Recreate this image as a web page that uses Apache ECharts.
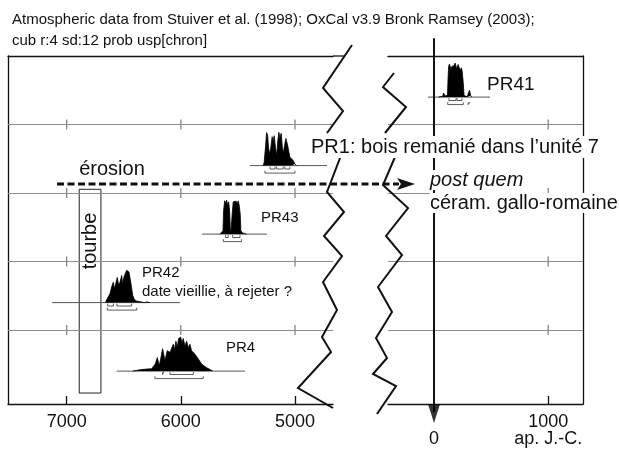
<!DOCTYPE html>
<html>
<head>
<meta charset="utf-8">
<title>OxCal - PR</title>
<script src="https://cdn.jsdelivr.net/npm/echarts@6/dist/echarts.min.js"></script>
<style>
  html, body { margin: 0; padding: 0; background: #fff; }
  #chart { width: 619px; height: 450px; }
</style>
</head>
<body>
<div id="chart"></div>
<script>
// années : négatif = av. J.-C., positif = ap. J.-C.
const leftTickYears = [-7000, -6000, -5000];
const rightLabelYears = [0, 1000];
const rightTickYears = [1000];
const gridRows = [0.6, 1.6, 2.6, 3.6];

// PR4
const pr4Years = [-6420, -6387, -6358, -6299, -6256, -6241, -6224, -6206, -6189, -6174, -6160, -6139, -6119, -6095, -6081, -6066, -6055, -6043, -6031, -6020, -6002, -5990, -5979, -5964, -5949, -5935, -5920, -5906, -5891, -5877, -5862, -5847, -5833, -5818, -5798, -5774, -5745, -5722];
const pr4Prob = [0, 0.02, 0.04, 0.06, 0.07, 0.12, 0.21, 0.4, 0.16, 0.4, 0.66, 0.31, 0.6, 0.55, 0.6, 0.79, 0.64, 0.88, 0.69, 0.96, 1.0, 0.84, 0.96, 0.74, 0.88, 0.69, 0.79, 0.6, 0.64, 0.5, 0.55, 0.36, 0.4, 0.21, 0.16, 0.1, 0.05, 0];
const pr4Base = [-6562, -5439];
const pr4Sigma1 = [[-6160, -6150], [-6095, -5891]];
const pr4Sigma2 = [[-6227, -5804]];

// PR42
const pr42Years = [-6660, -6650, -6636, -6621, -6606, -6592, -6583, -6571, -6557, -6545, -6533, -6518, -6510, -6498, -6487, -6475, -6466, -6454, -6446, -6434, -6422, -6411, -6393, -6382, -6320, -6299, -6285, -6270];
const pr42Prob = [0, 0.08, 0.17, 0.26, 0.46, 0.6, 0.42, 0.55, 0.74, 0.52, 0.6, 0.8, 0.55, 0.75, 0.85, 0.95, 1.0, 0.9, 0.74, 0.5, 0.22, 0.12, 0.05, 0.01, 0, 0.02, 0.04, 0];
const pr42Base = [-7129, -6008];
const pr42Sigma1 = [[-6641, -6590], [-6560, -6431]];
const pr42Sigma2 = [[-6644, -6387]];

// PR43
const pr43Years = [-5658, -5643, -5631, -5625, -5616, -5608, -5599, -5590, -5581, -5573, -5567, -5561, -5555, -5550, -5541, -5532, -5524, -5515, -5506, -5497, -5489, -5480, -5474, -5459, -5439, -5424];
const pr43Prob = [0, 0.03, 0.1, 0.7, 0.98, 0.9, 1.0, 0.85, 0.95, 0.7, 0.2, 0.05, 0.1, 0.6, 0.95, 1.0, 0.9, 0.97, 0.88, 0.98, 0.85, 0.6, 0.1, 0.03, 0.02, 0];
const pr43Base = [-5815, -5246];
const pr43Sigma1 = [[-5608, -5585], [-5546, -5482]];
const pr43Sigma2 = [[-5628, -5468]];

// PR1
const pr1Years = [-5278, -5270, -5257, -5249, -5240, -5231, -5222, -5211, -5200, -5191, -5182, -5170, -5161, -5150, -5141, -5132, -5121, -5112, -5103, -5091, -5080, -5068, -5056, -5045, -5030, -5016, -5001, -4986];
const pr1Prob = [0, 0.1, 0.6, 0.97, 0.9, 0.5, 0.35, 0.55, 0.85, 0.7, 0.88, 0.5, 0.3, 0.75, 0.98, 0.8, 0.95, 0.6, 0.35, 0.6, 0.8, 0.65, 0.45, 0.25, 0.3, 0.15, 0.05, 0];
const pr1Base = [-5395, -4720];
const pr1Sigma1 = [[-5218, -5174], [-5161, -5103], [-5088, -5045]];
const pr1Sigma2 = [[-5263, -5001]];

// PR41
const pr41Years = [40, 75, 85, 90, 96, 110, 118, 123, 128, 135, 142, 149, 156, 163, 170, 177, 184, 191, 198, 205, 212, 219, 226, 233, 240, 247, 253, 258, 263, 270, 290, 305, 311, 316, 321, 330];
const pr41Prob = [0, 0.02, 0.12, 0.14, 0.03, 0.02, 0.06, 0.55, 0.9, 0.97, 1.0, 0.82, 0.9, 0.95, 0.86, 0.93, 1.0, 0.94, 0.83, 0.9, 0.96, 0.88, 0.92, 0.8, 0.86, 0.75, 0.7, 0.35, 0.05, 0.02, 0.01, 0.04, 0.2, 0.24, 0.05, 0];
const pr41Base = [-53, 491];
const pr41Sigma1 = [[131, 193], [201, 245]];
const pr41Sigma2 = [[120, 256], [300, 312]];

// tourbe (années, rangs)
const tourbeYears = [-6890, -6700];
const tourbeRows = [-0.32, 2.654];

const samples = [
  {name: 'PR4', row: 0, grid: 0, years: pr4Years, prob: pr4Prob, base: pr4Base, s1: pr4Sigma1, s2: pr4Sigma2},
  {name: 'PR42', row: 1, grid: 0, years: pr42Years, prob: pr42Prob, base: pr42Base, s1: pr42Sigma1, s2: pr42Sigma2},
  {name: 'PR43', row: 2, grid: 0, years: pr43Years, prob: pr43Prob, base: pr43Base, s1: pr43Sigma1, s2: pr43Sigma2},
  {name: 'PR1', row: 3, grid: 0, years: pr1Years, prob: pr1Prob, base: pr1Base, s1: pr1Sigma1, s2: pr1Sigma2},
  {name: 'PR41', row: 4, grid: 1, years: pr41Years, prob: pr41Prob, base: pr41Base, s1: pr41Sigma1, s2: pr41Sigma2}
];

const FONT = '"Liberation Sans", Arial, sans-serif';
const ROW_MIN = -0.48, ROW_MAX = 4.6;
const PROB_PER_ROW = 68.5 / 34;   // une densité pleine = 34 px, un rang = 68.5 px

const axisLineStyle = {color: '#111', width: 1.3};

const xAxes = [
  // 0 : gauche, bas
  {type: 'value', gridIndex: 0, min: -7514, max: -4667, position: 'bottom',
    axisLine: {onZero: false, lineStyle: axisLineStyle},
    axisTick: {inside: true, length: 8, customValues: leftTickYears, lineStyle: {color: '#111', width: 1.3}},
    axisLabel: {customValues: leftTickYears, formatter: v => String(Math.abs(v)),
      fontSize: 18, color: '#111', fontFamily: FONT, margin: 10, lineHeight: 17},
    splitLine: {show: false}},
  // 1 : gauche, haut
  {type: 'value', gridIndex: 0, min: -7514, max: -4667, position: 'top',
    axisLine: {onZero: false, lineStyle: axisLineStyle},
    axisTick: {show: false}, axisLabel: {show: false}, splitLine: {show: false}},
  // 2 : droite, bas
  {type: 'value', gridIndex: 1, min: -403, max: 1305, position: 'bottom',
    axisLine: {onZero: false, lineStyle: axisLineStyle},
    axisTick: {inside: true, length: 8, customValues: rightTickYears, lineStyle: {color: '#111', width: 1.3}},
    axisLabel: {customValues: rightLabelYears,
      formatter: v => v === 0 ? '\n' + v : v + '\nap. J.-C.',
      fontSize: 18, color: '#111', fontFamily: FONT, margin: 10, lineHeight: 17},
    splitLine: {show: false}},
  // 3 : droite, haut
  {type: 'value', gridIndex: 1, min: -403, max: 1305, position: 'top',
    axisLine: {onZero: false, lineStyle: axisLineStyle},
    axisTick: {show: false}, axisLabel: {show: false}, splitLine: {show: false}}
];

const yAxes = [
  {type: 'value', gridIndex: 0, min: ROW_MIN, max: ROW_MAX, position: 'left',
    axisLine: {show: true, onZero: false, lineStyle: axisLineStyle},
    axisTick: {show: false}, axisLabel: {show: false}, splitLine: {show: false}},
  {type: 'value', gridIndex: 1, min: ROW_MIN, max: ROW_MAX, position: 'right',
    axisLine: {show: true, onZero: false, lineStyle: axisLineStyle},
    axisTick: {show: false}, axisLabel: {show: false}, splitLine: {show: false}}
];
samples.forEach(s => {
  yAxes.push({type: 'value', gridIndex: s.grid, show: false,
    min: (ROW_MIN - s.row) * PROB_PER_ROW, max: (ROW_MAX - s.row) * PROB_PER_ROW});
});

const gridLineMark = {
  silent: true, symbol: 'none', label: {show: false},
  lineStyle: {color: '#8c8c8c', width: 1, type: 'solid'},
  data: gridRows.map(v => ({yAxis: v}))
};

function tickData(years) {
  const out = [];
  gridRows.forEach(r => years.forEach(y => out.push([y, r])));
  return out;
}

function rangeSeries(r, level, xi, yi) {
  return {
    type: 'line', xAxisIndex: xi, yAxisIndex: yi, symbol: 'none', silent: true, z: 3,
    lineStyle: {color: '#333', width: 0.8},
    data: [[r[0], level + 0.07], [r[0], level], [r[1], level], [r[1], level + 0.07]]
  };
}

const series = [
  // lignes de rang + repères, côté gauche
  {type: 'scatter', xAxisIndex: 0, yAxisIndex: 0, silent: true,
    symbol: 'rect', symbolSize: [1.3, 10], itemStyle: {color: '#666'},
    data: tickData(leftTickYears), markLine: gridLineMark,
    markArea: {silent: true, label: {show: false},
      itemStyle: {color: 'rgba(0,0,0,0)', borderColor: '#222', borderWidth: 1},
      data: [[{coord: [tourbeYears[0], tourbeRows[1]]}, {coord: [tourbeYears[1], tourbeRows[0]]}]]}},
  // côté droit
  {type: 'scatter', xAxisIndex: 2, yAxisIndex: 1, silent: true,
    symbol: 'rect', symbolSize: [1.3, 10], itemStyle: {color: '#666'},
    data: tickData(rightTickYears), markLine: gridLineMark},
  // trait du 0
  {type: 'line', xAxisIndex: 2, yAxisIndex: 1, silent: true, clip: false, symbol: 'none', z: 5,
    lineStyle: {color: '#111', width: 2},
    data: [[0, 4.86], [0, -0.6]]},
  {type: 'scatter', xAxisIndex: 2, yAxisIndex: 1, silent: true, clip: false, z: 5,
    symbol: 'triangle', symbolRotate: 180, symbolSize: [12, 19], itemStyle: {color: '#000'},
    data: [[0, -0.62]]}
];

samples.forEach((s, i) => {
  const xi = s.grid === 0 ? 0 : 2;
  const yi = 2 + i;
  series.push({
    type: 'line', xAxisIndex: xi, yAxisIndex: yi, symbol: 'none', silent: true, z: 2,
    lineStyle: {color: '#555', width: 1},
    data: s.base.map(y => [y, 0])
  });
  series.push({
    name: s.name, type: 'line', xAxisIndex: xi, yAxisIndex: yi, symbol: 'none', silent: true, z: 4,
    lineStyle: {color: '#000', width: 0.8},
    areaStyle: {color: '#000', opacity: 1},
    data: s.years.map((y, j) => [y, s.prob[j]])
  });
  s.s1.forEach(r => series.push(rangeSeries(r, -0.1, xi, yi)));
  s.s2.forEach(r => series.push(rangeSeries(r, -0.22, xi, yi)));
});

// coupures de l'axe (zigzags)
const zigzags = [
  [[352, 45], [323, 88], [343, 111], [327, 133]],
  [[345, 145], [327, 192], [344, 212], [324, 236], [342, 256], [323, 282], [337, 310], [322, 337], [331, 352], [298, 388], [333, 408]],
  [[394, 73], [383, 87], [406, 107], [385, 133]],
  [[398, 150], [383, 185], [408, 208], [386, 236], [402, 255], [378, 287], [392, 312], [376, 338], [387, 358], [373, 374], [396, 386], [377, 414]]
];

function txt(x, y, text, size, extra) {
  return Object.assign({type: 'text', x: x, y: y, z: 120,
    style: Object.assign({text: text, fill: '#111', font: size + 'px ' + FONT, verticalAlign: 'middle'}, extra || {})});
}

const graphic = [];
zigzags.forEach(pts => graphic.push({type: 'polyline', z: 100, shape: {points: pts},
  style: {stroke: '#111', lineWidth: 2, fill: null}}));
// bout du cadre haut jusqu'au zigzag
graphic.push({type: 'line', z: 100, shape: {x1: 333, y1: 56, x2: 345, y2: 56},
  style: {stroke: '#111', lineWidth: 1.3}});
graphic.push({type: 'line', z: 100, shape: {x1: 57, y1: 184, x2: 399, y2: 184},
  style: {stroke: '#111', lineWidth: 3, lineDash: [7, 3.5]}});
graphic.push({type: 'polygon', z: 100, shape: {points: [[415, 184], [397, 178], [401, 184], [397, 190]]},
  style: {fill: '#111'}});
graphic.push(
  txt(12, 20, 'Atmospheric data from Stuiver et al. (1998); OxCal v3.9 Bronk Ramsey (2003);', 15),
  txt(12, 41, 'cub r:4 sd:12 prob usp[chron]', 15),
  txt(487, 85, 'PR41', 19),
  txt(310, 147, 'PR1: bois remanié dans l’unité 7', 20, {backgroundColor: '#fff', padding: [1, 1]}),
  txt(112, 169, 'érosion', 20, {align: 'center'}),
  txt(430, 180, 'post quem', 20, {font: 'italic 20px ' + FONT, backgroundColor: '#fff'}),
  txt(430, 203, 'céram. gallo-romaine', 20, {backgroundColor: '#fff'}),
  txt(261, 218, 'PR43', 15),
  txt(142, 273, 'PR42', 15),
  txt(142, 292, 'date vieillie, à rejeter ?', 15),
  txt(226, 348, 'PR4', 15)
);
graphic.push({type: 'text', x: 90, y: 241, rotation: Math.PI / 2, z: 120,
  style: {text: 'tourbe', fill: '#111', font: '20px ' + FONT, align: 'center', verticalAlign: 'middle'}});

const option = {
  animation: false,
  backgroundColor: '#fff',
  textStyle: {fontFamily: FONT},
  grid: [
    {left: 8, top: 56, width: 325, height: 348, outerBoundsMode: 'none'},
    {left: 388, top: 56, width: 195, height: 348, outerBoundsMode: 'none'}
  ],
  xAxis: xAxes,
  yAxis: yAxes,
  series: series,
  graphic: graphic
};

const chart = echarts.init(document.getElementById('chart'));
chart.setOption(option);
</script>
</body>
</html>
